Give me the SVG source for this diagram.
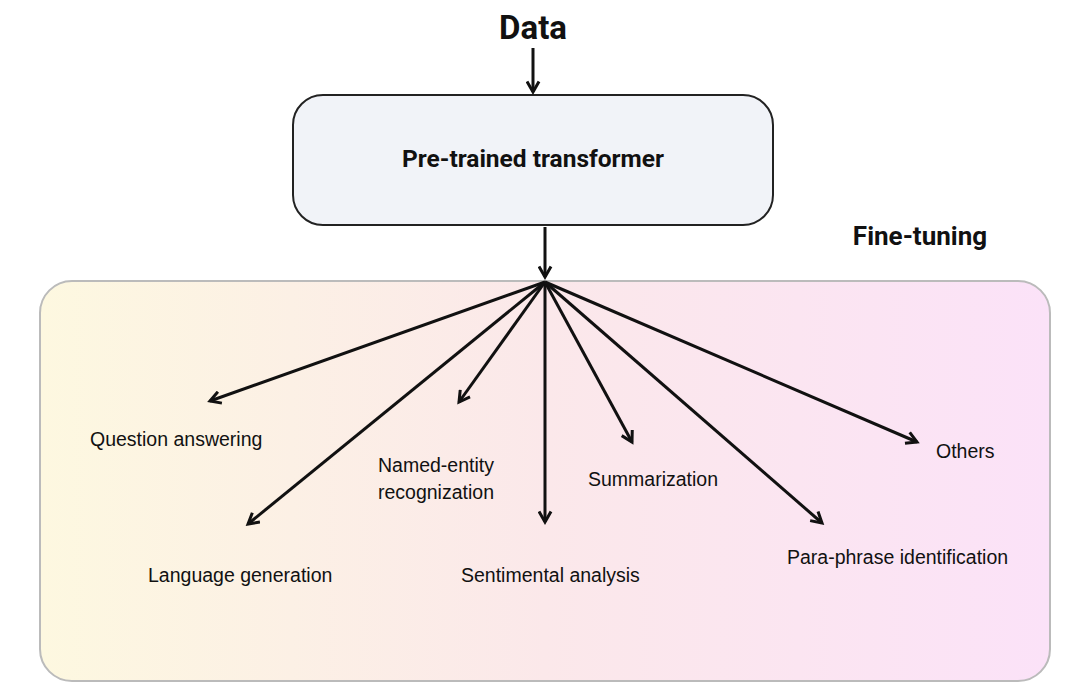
<svg xmlns="http://www.w3.org/2000/svg" width="1083" height="699" viewBox="0 0 1083 699">
<style>
.lbl{font-family:"Liberation Sans",Arial,sans-serif;font-size:19.5px;fill:#111}
.b{font-family:Roboto,"Liberation Sans",sans-serif;font-weight:bold;fill:#111}
.c{stroke:#111;stroke-width:3;fill:none;marker-end:url(#ah)}
</style>
<defs>
<marker id="ah" viewBox="0 0 10 10" refX="8" refY="5" markerWidth="5" markerHeight="5" orient="auto"><path d="M1,1 L8,5 L1,9" fill="none" stroke="#111" stroke-width="2"/></marker>
<linearGradient id="g" x1="0" x2="1" y1="0" y2="0"><stop offset="0" stop-color="#fdf8e0"/><stop offset="0.5" stop-color="#fbe8ea"/><stop offset="1" stop-color="#fbe2f8"/></linearGradient>
</defs>
<rect width="1083" height="699" fill="#fff"/>
<g id="data"><text class="b" x="533" y="39" font-size="33" text-anchor="middle">Data</text></g>
<g id="transformer"><rect x="293" y="95" width="480" height="130" rx="30" fill="#f1f3f8" stroke="#222" stroke-width="2"/><text class="b" x="533" y="167" font-size="24.5" text-anchor="middle">Pre-trained transformer</text></g>
<g id="finetuning"><rect x="40" y="281" width="1010" height="400" rx="32" fill="url(#g)" stroke="#bbb" stroke-width="2"/><text class="b" x="920" y="245" font-size="26" text-anchor="middle">Fine-tuning</text></g>
<g id="labels">
<text class="lbl" x="90" y="446">Question answering</text>
<text class="lbl" x="148" y="582">Language generation</text>
<text class="lbl" x="378" y="472">Named-entity</text>
<text class="lbl" x="378" y="499">recognization</text>
<text class="lbl" x="461" y="582">Sentimental analysis</text>
<text class="lbl" x="588" y="486">Summarization</text>
<text class="lbl" x="787" y="564">Para-phrase identification</text>
<text class="lbl" x="936" y="458">Others</text>
</g>
<g id="connectors">
<path class="c" d="M533,48 L533,92"/>
<path class="c" d="M545,227 L545,277"/>
<path class="c" d="M545,282 L210,401"/>
<path class="c" d="M545,282 L248,524"/>
<path class="c" d="M545,282 L459,402"/>
<path class="c" d="M545,282 L545,522"/>
<path class="c" d="M545,282 L632,442"/>
<path class="c" d="M545,282 L822,523"/>
<path class="c" d="M545,282 L917,442"/>
</g>
</svg>
